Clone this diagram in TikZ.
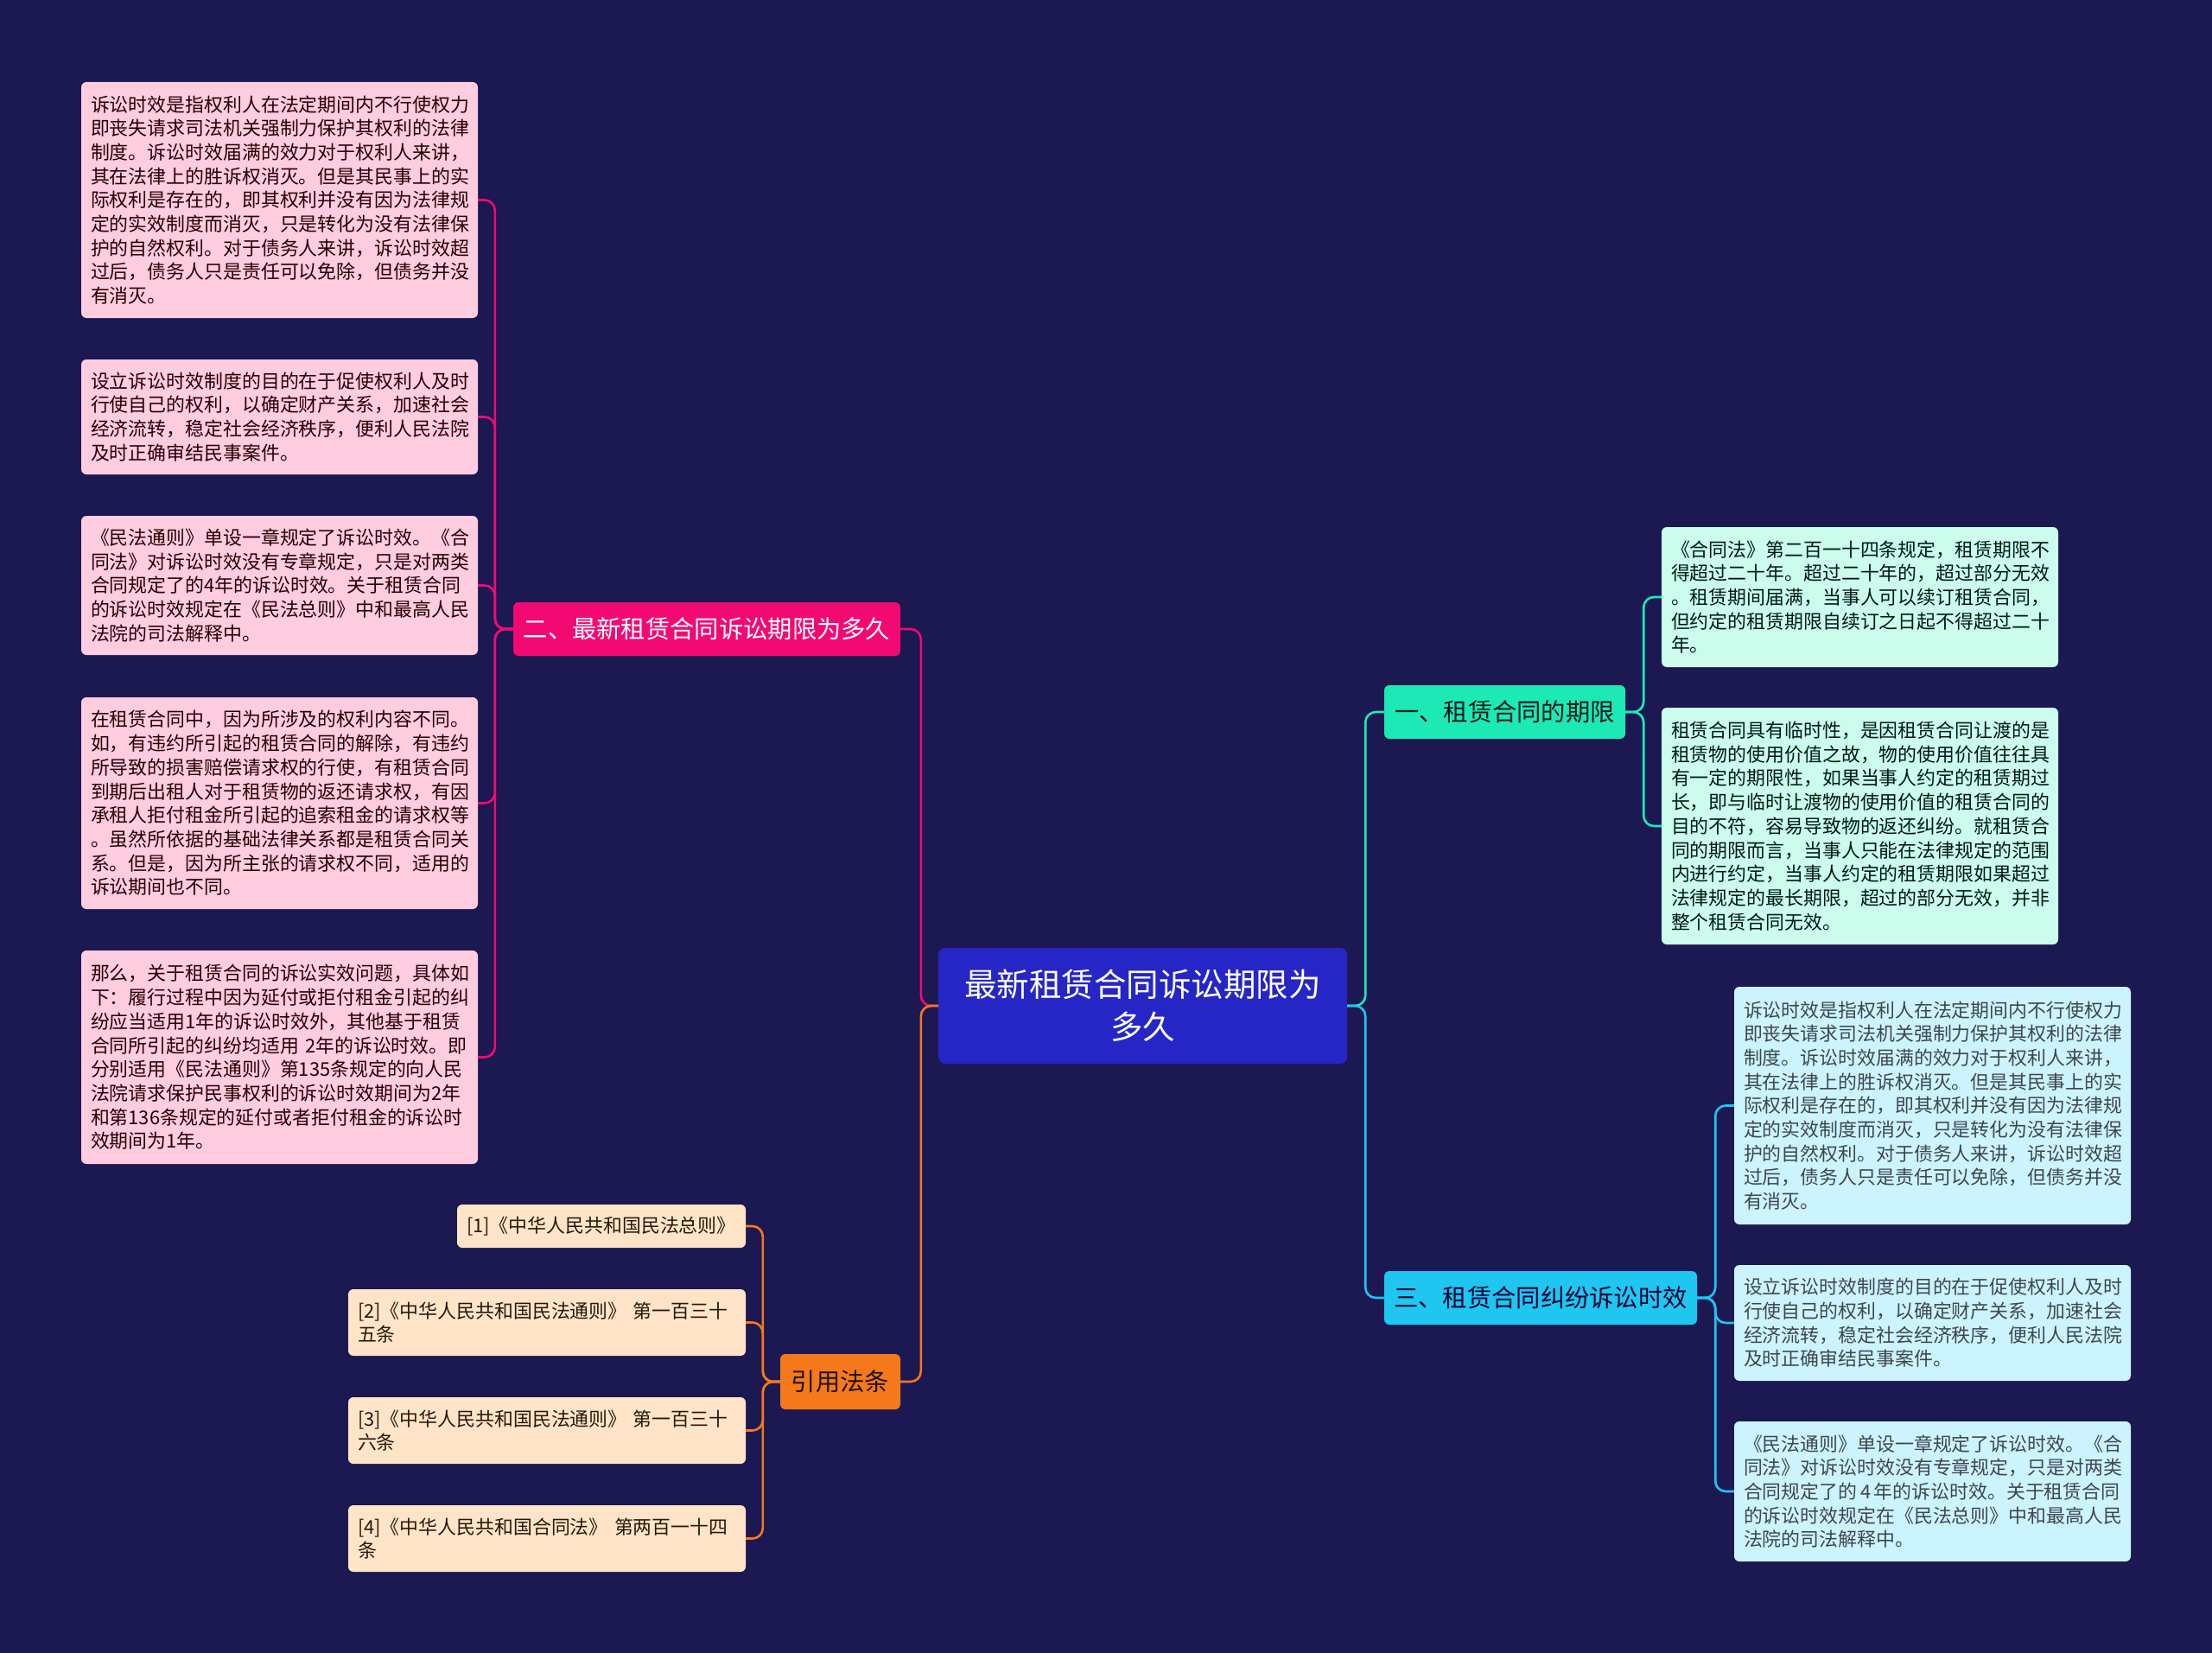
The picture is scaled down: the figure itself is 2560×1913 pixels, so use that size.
\documentclass[tikz,border=0pt]{standalone}
\usepackage{fontspec}
\setmainfont{Noto Sans CJK SC}
\definecolor{bg}{HTML}{1B1852}
\definecolor{rootc}{HTML}{2626C6}
\definecolor{pinkc}{HTML}{F20A72}
\definecolor{orangec}{HTML}{F5781A}
\definecolor{tealc}{HTML}{1DE9B6}
\definecolor{cyanc}{HTML}{1EC6F0}
\definecolor{pinkleafc}{HTML}{FFCCE0}
\definecolor{peachc}{HTML}{FFE4C8}
\definecolor{mintc}{HTML}{CBFCEC}
\definecolor{skyc}{HTML}{CCF4FF}
\tikzset{
  leaf/.style={rounded corners=6, text width=437, inner xsep=11, inner ysep=0, align=left,
    font=\fontsize{21.9}{27.7}\selectfont},
  pinkleaf/.style={leaf, fill=pinkleafc, text=black!85!red},
  peachleaf/.style={leaf, fill=peachc, text=black!80!brown},
  mintleaf/.style={leaf, fill=mintc, text=black!80!teal},
  skyleaf/.style={leaf, fill=skyc, text=black!80!cyan},
  branch/.style={rounded corners=6, inner sep=0, font=\fontsize{28.3}{34}\selectfont},
  conn/.style={line width=2.6, rounded corners=12},
}
\begin{document}
\begin{tikzpicture}[x=1pt,y=-1pt]
\useasboundingbox (0,0) rectangle (2560,1913);
\fill[bg] (0,0) rectangle (2560,1913);

% root
\node[rounded corners=8, fill=rootc, text=white, minimum width=473, minimum height=134, align=center,
  font=\fontsize{37.5}{49}\selectfont] (root) at (1322.5,1164) {最新租赁合同诉讼期限为\\多久};

% branches
\node[branch, fill=pinkc, text=white, minimum width=448, minimum height=62] (b2) at (818,728) {二、最新租赁合同诉讼期限为多久};
\node[branch, fill=orangec, text=black!85!brown, minimum width=139, minimum height=64] (bref) at (972.5,1599) {引用法条};
\node[branch, fill=tealc, text=black!80!teal, minimum width=279, minimum height=62] (b1) at (1741.5,824) {一、租赁合同的期限};
\node[branch, fill=cyanc, text=black!80!blue, minimum width=362, minimum height=62] (b3) at (1783,1502) {三、租赁合同纠纷诉讼时效};

% left leaves
\node[pinkleaf, minimum height=273] (l1) at (323.5,231.5) {诉讼时效是指权利人在法定期间内不行使权力\\即丧失请求司法机关强制力保护其权利的法律\\制度。诉讼时效届满的效力对于权利人来讲，\\其在法律上的胜诉权消灭。但是其民事上的实\\际权利是存在的，即其权利并没有因为法律规\\定的实效制度而消灭，只是转化为没有法律保\\护的自然权利。对于债务人来讲，诉讼时效超\\过后，债务人只是责任可以免除，但债务并没\\有消灭。};
\node[pinkleaf, minimum height=133] (l2) at (323.5,482.5) {设立诉讼时效制度的目的在于促使权利人及时\\行使自己的权利，以确定财产关系，加速社会\\经济流转，稳定社会经济秩序，便利人民法院\\及时正确审结民事案件。};
\node[pinkleaf, minimum height=161] (l3) at (323.5,677.5) {《民法通则》单设一章规定了诉讼时效。《合\\同法》对诉讼时效没有专章规定，只是对两类\\合同规定了的4年的诉讼时效。关于租赁合同\\的诉讼时效规定在《民法总则》中和最高人民\\法院的司法解释中。};
\node[pinkleaf, minimum height=245] (l4) at (323.5,929.5) {在租赁合同中，因为所涉及的权利内容不同。\\如，有违约所引起的租赁合同的解除，有违约\\所导致的损害赔偿请求权的行使，有租赁合同\\到期后出租人对于租赁物的返还请求权，有因\\承租人拒付租金所引起的追索租金的请求权等\\。虽然所依据的基础法律关系都是租赁合同关\\系。但是，因为所主张的请求权不同，适用的\\诉讼期间也不同。};
\node[pinkleaf, minimum height=247] (l5) at (323.5,1223.5) {那么，关于租赁合同的诉讼实效问题，具体如\\下：履行过程中因为延付或拒付租金引起的纠\\纷应当适用1年的诉讼时效外，其他基于租赁\\合同所引起的纠纷均适用 2年的诉讼时效。即\\分别适用《民法通则》第135条规定的向人民\\法院请求保护民事权利的诉讼时效期间为2年\\和第136条规定的延付或者拒付租金的诉讼时\\效期间为1年。};

% reference leaves
\node[peachleaf, text width=312, minimum height=50] (r1) at (696,1419) {[1]《中华人民共和国民法总则》};
\node[peachleaf, text width=438, minimum height=77] (r2) at (633,1530.5) {[2]《中华人民共和国民法通则》 第一百三十\\五条};
\node[peachleaf, text width=438, minimum height=77] (r3) at (633,1655.5) {[3]《中华人民共和国民法通则》 第一百三十\\六条};
\node[peachleaf, text width=438, minimum height=77] (r4) at (633,1780.5) {[4]《中华人民共和国合同法》 第两百一十四\\条};

% right leaves (branch 1)
\node[mintleaf, minimum height=162] (a1) at (2152.5,691) {《合同法》第二百一十四条规定，租赁期限不\\得超过二十年。超过二十年的，超过部分无效\\。租赁期间届满，当事人可以续订租赁合同，\\但约定的租赁期限自续订之日起不得超过二十\\年。};
\node[mintleaf, minimum height=274] (a2) at (2152.5,956) {租赁合同具有临时性，是因租赁合同让渡的是\\租赁物的使用价值之故，物的使用价值往往具\\有一定的期限性，如果当事人约定的租赁期过\\长，即与临时让渡物的使用价值的租赁合同的\\目的不符，容易导致物的返还纠纷。就租赁合\\同的期限而言，当事人只能在法律规定的范围\\内进行约定，当事人约定的租赁期限如果超过\\法律规定的最长期限，超过的部分无效，并非\\整个租赁合同无效。};

% right leaves (branch 3)
\node[skyleaf, minimum height=275] (c1) at (2236.5,1279.5) {诉讼时效是指权利人在法定期间内不行使权力\\即丧失请求司法机关强制力保护其权利的法律\\制度。诉讼时效届满的效力对于权利人来讲，\\其在法律上的胜诉权消灭。但是其民事上的实\\际权利是存在的，即其权利并没有因为法律规\\定的实效制度而消灭，只是转化为没有法律保\\护的自然权利。对于债务人来讲，诉讼时效超\\过后，债务人只是责任可以免除，但债务并没\\有消灭。};
\node[skyleaf, minimum height=134] (c2) at (2236.5,1531) {设立诉讼时效制度的目的在于促使权利人及时\\行使自己的权利，以确定财产关系，加速社会\\经济流转，稳定社会经济秩序，便利人民法院\\及时正确审结民事案件。};
\node[skyleaf, minimum height=162] (c3) at (2236.5,1726) {《民法通则》单设一章规定了诉讼时效。《合\\同法》对诉讼时效没有专章规定，只是对两类\\合同规定了的\,4\,年的诉讼时效。关于租赁合同\\的诉讼时效规定在《民法总则》中和最高人民\\法院的司法解释中。};

% connectors: root to branches
\draw[conn, pinkc] (root.west) -- ++(-20,0) |- (b2.east);
\draw[conn, orangec] (root.west) -- ++(-20,0) |- (bref.east);
\draw[conn, tealc] (root.east) -- ++(21,0) |- (b1.west);
\draw[conn, cyanc] (root.east) -- ++(21,0) |- (b3.west);

% branch 2 to leaves
\foreach \n in {l1,l2,l3,l4,l5}
  \draw[conn, pinkc] (b2.west) -- ++(-21,0) |- (\n.east);
% references
\foreach \n in {r1,r2,r3,r4}
  \draw[conn, orangec] (bref.west) -- ++(-20,0) |- (\n.east);
% branch 1
\foreach \n in {a1,a2}
  \draw[conn, tealc] (b1.east) -- ++(21,0) |- (\n.west);
% branch 3
\foreach \n in {c1,c2,c3}
  \draw[conn, cyanc] (b3.east) -- ++(21,0) |- (\n.west);
\end{tikzpicture}
\end{document}
